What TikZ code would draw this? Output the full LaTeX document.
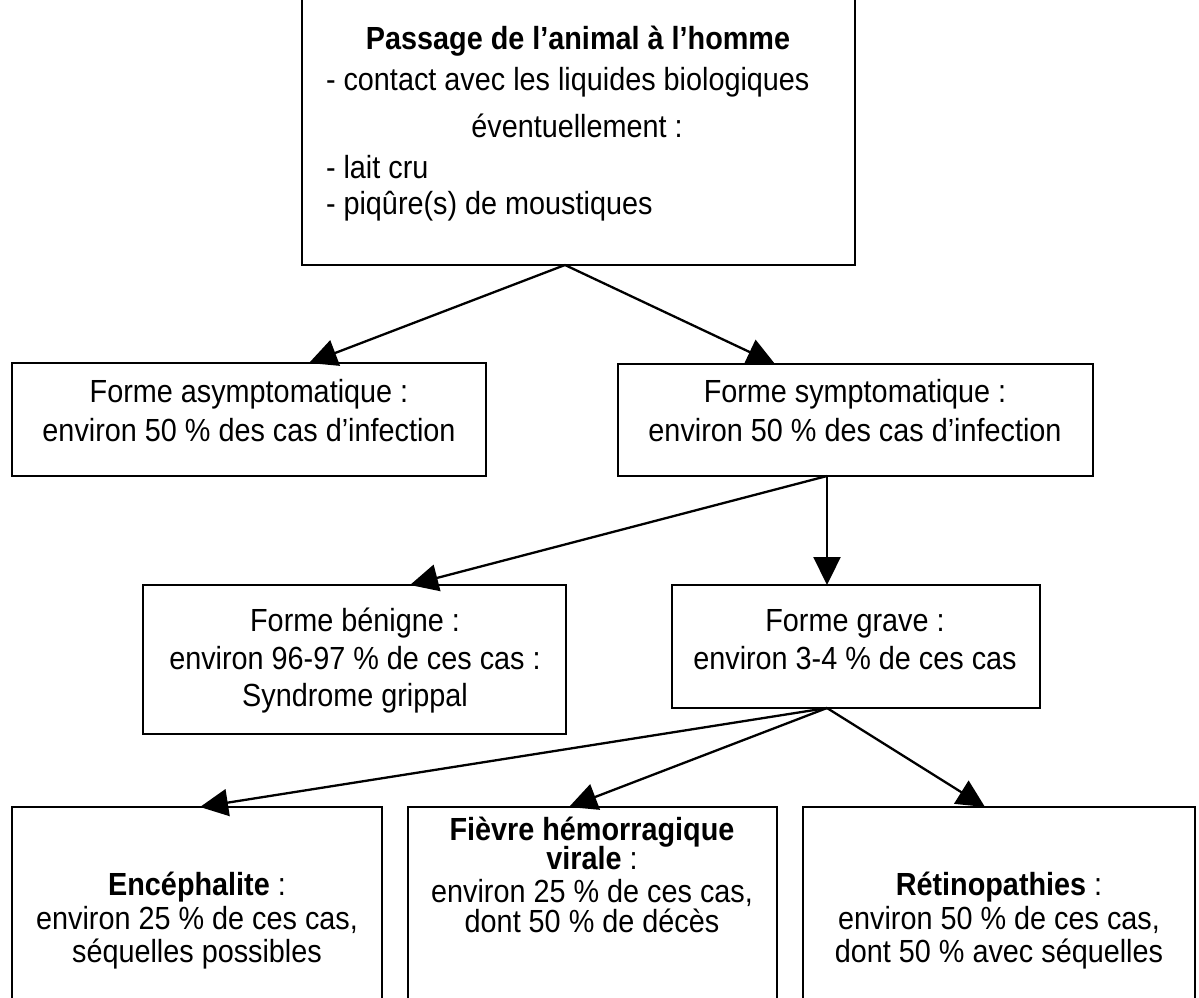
\documentclass[tikz,border=0pt]{standalone}
\usepackage{fontspec}
\setmainfont{Liberation Sans}
\newfontfamily\reffont[FakeStretch=0.9]{Liberation Sans}
\usetikzlibrary{arrows.meta}
\begin{document}
\begin{tikzpicture}[x=1pt,y=-1pt,
  box/.style={draw=black, line width=2pt, rectangle, inner sep=0pt, outer sep=0pt, anchor=north west},
  txt/.style={inner sep=0pt, outer sep=0pt, anchor=base, font=\reffont\fontsize{32}{36}\selectfont},
  txtl/.style={txt, anchor=base west},
  arr/.style={line width=2.3pt, -{Triangle[length=28pt,width=27pt]}}]
\useasboundingbox (0,0) rectangle (1199,998);
\clip (0,0) rectangle (1199,998);
\fill[white] (0,0) rectangle (1199,998);
% boxes
\node[box, minimum width=553pt, minimum height=305pt] (topbox) at (302,-40) {};
\node[box, minimum width=474pt, minimum height=113pt] (asym) at (12,363) {};
\node[box, minimum width=475pt, minimum height=112pt] (sym) at (618,364) {};
\node[box, minimum width=423pt, minimum height=149pt] (ben) at (143,585) {};
\node[box, minimum width=368pt, minimum height=123pt] (grave) at (672,585) {};
\node[box, minimum width=370pt, minimum height=250pt] (enc) at (12,807) {};
\node[box, minimum width=369pt, minimum height=250pt] (fie) at (408,807) {};
\node[box, minimum width=392pt, minimum height=250pt] (ret) at (803,807) {};
% texts
\node[txt] (t1) at (578,50) {\textbf{Passage de l’animal à l’homme}};
\node[txtl] (t2) at (326,90) {- contact avec les liquides biologiques};
\node[txt] (t3) at (577,137) {éventuellement :};
\node[txtl] (t4) at (326,178) {- lait cru};
\node[txtl] (t5) at (326,214) {- piqûre(s) de moustiques};
\node[txt] (a1) at (249,402) {Forme asymptomatique :};
\node[txt] (a2) at (249,441) {environ 50 \% des cas d’infection};
\node[txt] (s1) at (855,402) {Forme symptomatique :};
\node[txt] (s2) at (855,441) {environ 50 \% des cas d’infection};
\node[txt] (b1) at (355,631) {Forme bénigne :};
\node[txt] (b2) at (355,669) {environ 96-97 \% de ces cas :};
\node[txt] (b3) at (355,706) {Syndrome grippal};
\node[txt] (g1) at (855,631) {Forme grave :};
\node[txt] (g2) at (855,669) {environ 3-4 \% de ces cas};
\node[txt] (e1) at (197,895) {\textbf{Encéphalite} :};
\node[txt] (e2) at (197,929) {environ 25 \% de ces cas,};
\node[txt] (e3) at (197,962) {séquelles possibles};
\node[txt] (f1) at (592,840) {\textbf{Fièvre hémorragique}};
\node[txt] (f2) at (592,869) {\textbf{virale} :};
\node[txt] (f3) at (592,902) {environ 25 \% de ces cas,};
\node[txt] (f4) at (592,932) {dont 50 \% de décès};
\node[txt] (r1) at (999,895) {\textbf{Rétinopathies} :};
\node[txt] (r2) at (999,929) {environ 50 \% de ces cas,};
\node[txt] (r3) at (999,962) {dont 50 \% avec séquelles};
% connectors
\draw[arr] ([xshift=-13.5pt]topbox.south) -- ([xshift=60pt]asym.north);
\draw[arr] ([xshift=-13.5pt]topbox.south) -- ([xshift=-80.5pt]sym.north);
\draw[arr] ([xshift=-28.5pt]sym.south) -- ([xshift=55.5pt]ben.north);
\draw[arr] ([xshift=-28.5pt]sym.south) -- ([xshift=-29pt]grave.north);
\draw[arr] ([xshift=-29pt]grave.south) -- ([xshift=3pt]enc.north);
\draw[arr] ([xshift=-29pt]grave.south) -- ([xshift=-23.5pt]fie.north);
\draw[arr] ([xshift=-29pt]grave.south) -- ([xshift=-14pt]ret.north);
\end{tikzpicture}
\end{document}
